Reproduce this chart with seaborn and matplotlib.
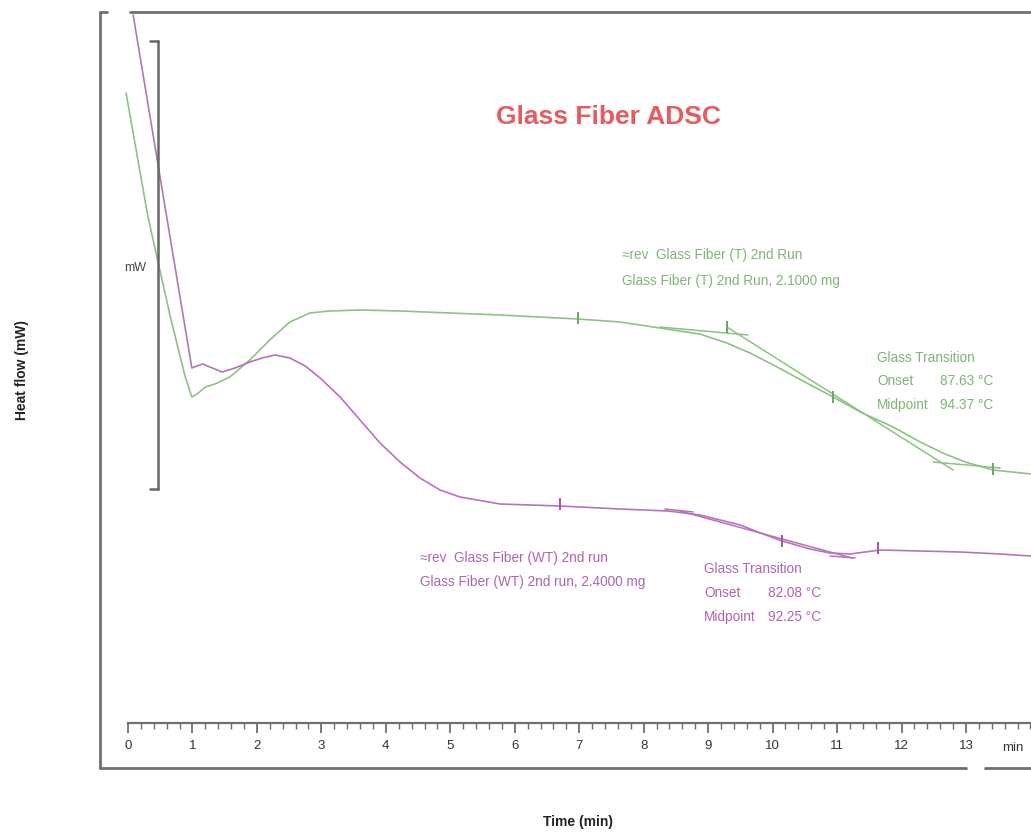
import numpy as np
import pandas as pd
import matplotlib
matplotlib.use("Agg")
import matplotlib.pyplot as plt
import seaborn as sns

# --- data (time in min, heat flow in mW, arbitrary offset) ---
t_green = [-0.03, 0.31, 0.65, 0.88, 0.99, 1.09, 1.20, 1.35, 1.58, 1.89, 2.20, 2.51, 2.82,
           3.13, 3.60, 4.22, 5.00, 5.77, 6.98, 7.63, 8.25, 8.87, 9.29, 9.65, 10.07, 10.50,
           10.94, 11.36, 11.87, 12.29, 12.64, 12.99, 13.42, 14.01]
hf_green = [6.75, 5.51, 4.53, 3.93, 3.71, 3.75, 3.81, 3.84, 3.91, 4.08, 4.28, 4.46, 4.55,
            4.57, 4.58, 4.57, 4.55, 4.53, 4.49, 4.46, 4.40, 4.34, 4.25, 4.15, 4.01, 3.86,
            3.71, 3.56, 3.41, 3.26, 3.15, 3.06, 2.98, 2.94]

t_pink = [0.08, 0.99, 1.07, 1.16, 1.27, 1.46, 1.66, 1.89, 2.08, 2.28, 2.51, 2.75, 2.98,
          3.29, 3.60, 3.91, 4.22, 4.53, 4.84, 5.15, 5.77, 6.70, 7.63, 8.38, 8.87, 9.50,
          9.81, 10.15, 10.58, 10.89, 11.20, 11.67, 12.29, 12.91, 13.53, 14.01]
hf_pink = [7.53, 4.00, 4.02, 4.04, 4.01, 3.96, 4.00, 4.06, 4.10, 4.13, 4.10, 4.02, 3.90,
           3.71, 3.48, 3.25, 3.06, 2.90, 2.78, 2.71, 2.64, 2.62, 2.59, 2.57, 2.53, 2.43,
           2.35, 2.27, 2.19, 2.15, 2.14, 2.18, 2.17, 2.16, 2.14, 2.12]

# glass transition construction lines (start/end of each segment)
green_tangents = [([8.25, 9.62], [4.41, 4.33]),
                  ([9.29, 12.80], [4.41, 2.98]),
                  ([12.49, 13.53], [3.06, 3.00])]
pink_tangents = [([8.33, 8.77], [2.59, 2.56]),
                 ([8.56, 11.23], [2.57, 2.10]),
                 ([10.89, 11.28], [2.12, 2.10])]
green_marks_t = [6.98, 9.29, 10.94, 13.42]
green_marks_hf = [4.50, 4.41, 3.71, 2.99]
pink_marks_t = [6.70, 10.15, 11.63]
pink_marks_hf = [2.64, 2.27, 2.20]

ticks = list(range(0, 14))
run_names = ["Glass Fiber (T) 2nd Run", "Glass Fiber (WT) 2nd run"]

GREEN = "#8cc383"
PINK = "#b772bb"
GREEN_TXT = "#7db574"
PINK_TXT = "#b063b0"
FRAME = "#707070"

df = pd.concat([
    pd.DataFrame({"time": t_green, "heat_flow": hf_green, "run": run_names[0]}),
    pd.DataFrame({"time": t_pink, "heat_flow": hf_pink, "run": run_names[1]}),
])

sns.set_style("white")
plt.rcParams["font.family"] = ["Liberation Sans", "DejaVu Sans"]

fig = plt.figure(figsize=(10.31, 8.39), dpi=100)
ax = fig.add_axes([0, 0, 1, 1])
ax.set_xlim(-1.986, 14.009)
ax.set_ylim(-0.71, 7.68)

sns.lineplot(data=df, x="time", y="heat_flow", hue="run", palette=[GREEN, PINK],
             sort=False, estimator=None, legend=False, linewidth=1.2, ax=ax)

for xs, ys in green_tangents:
    ax.plot(xs, ys, color=GREEN, lw=1.1)
for xs, ys in pink_tangents:
    ax.plot(xs, ys, color=PINK, lw=1.1)
ax.plot(green_marks_t, green_marks_hf, ls="none", marker="|", ms=9, mew=1.4, color="#6aa862")
ax.plot(pink_marks_t, pink_marks_hf, ls="none", marker="|", ms=9, mew=1.4, color="#a055a5")

# ruler-like time axis
for s in ["left", "top", "right"]:
    ax.spines[s].set_visible(False)
ax.spines["bottom"].set_position(("data", 0.45))
ax.spines["bottom"].set_bounds(0, 14.0)
ax.spines["bottom"].set_color(FRAME)
ax.spines["bottom"].set_linewidth(1.6)
ax.set_xticks(ticks)
ax.set_xticks(np.arange(0, 14.01, 0.2), minor=True)
ax.tick_params(axis="x", which="major", direction="out", length=7, width=1.3,
               color=FRAME, labelsize=9.5, labelcolor="#333333", pad=5)
ax.tick_params(axis="x", which="minor", direction="out", length=4, width=1.0, color=FRAME)
ax.tick_params(axis="x", which="both", bottom=True)
ax.set_yticks([])
ax.set_xlabel("")
ax.set_ylabel("")
ax.text(13.72, 0.20, "min", ha="center", va="center", fontsize=9.5, color="#333333")


def px(x, y):
    return x / 1031, 1 - y / 839


def fline(x0, y0, x1, y1, **kw):
    (a, b), (c, d) = px(x0, y0), px(x1, y1)
    fig.add_artist(plt.Line2D([a, c], [b, d], transform=fig.transFigure, **kw))


# scanned outer frame
fr = dict(color=FRAME, lw=2.0)
fline(100, 12, 100, 768, **fr)
fline(100, 12, 107, 12, **fr)
fline(130, 12, 1031, 12, **fr)
fline(100, 768, 966, 768, **fr)
fline(985, 768, 1031, 768, **fr)
# mW scale bar
sb = dict(color="#666666", lw=1.8)
fline(158, 41, 158, 489, **sb)
fline(150, 41, 158, 41, **sb)
fline(150, 489, 158, 489, **sb)
ax.text(0.11, 5.0, "mW", ha="center", va="center", fontsize=9, color="#444444")

# texts
ax.text((608 - 128) / 64.46, (768 - 117) / 100, "Glass Fiber ADSC", ha="center", va="center",
        fontsize=19, fontweight="bold", color="#e85a5d")

small = dict(fontsize=9.8, ha="left", va="center")
ax.text(7.66, 5.13, "\u2248rev  Glass Fiber (T) 2nd Run", color=GREEN_TXT, **small)
ax.text(7.66, 4.87, "Glass Fiber (T) 2nd Run, 2.1000 mg", color=GREEN_TXT, **small)
ax.text(11.62, 4.10, "Glass Transition", color=GREEN_TXT, **small)
ax.text(11.62, 3.87, "Onset", color=GREEN_TXT, **small)
ax.text(12.60, 3.87, "87.63 \u00b0C", color=GREEN_TXT, **small)
ax.text(11.62, 3.63, "Midpoint", color=GREEN_TXT, **small)
ax.text(12.60, 3.63, "94.37 \u00b0C", color=GREEN_TXT, **small)

ax.text(4.53, 2.10, "\u2248rev  Glass Fiber (WT) 2nd run", color=PINK_TXT, **small)
ax.text(4.53, 1.86, "Glass Fiber (WT) 2nd run, 2.4000 mg", color=PINK_TXT, **small)
ax.text(8.94, 1.99, "Glass Transition", color=PINK_TXT, **small)
ax.text(8.94, 1.75, "Onset", color=PINK_TXT, **small)
ax.text(9.93, 1.75, "82.08 \u00b0C", color=PINK_TXT, **small)
ax.text(8.94, 1.51, "Midpoint", color=PINK_TXT, **small)
ax.text(9.93, 1.51, "92.25 \u00b0C", color=PINK_TXT, **small)

fig.text(22 / 1031, 1 - 370 / 839, "Heat flow (mW)", rotation=90, ha="center", va="center",
         fontsize=10, fontweight="bold", color="#222222")
fig.text(578 / 1031, 1 - 822 / 839, "Time (min)", ha="center", va="center",
         fontsize=10, fontweight="bold", color="#222222")

fig.savefig("out.png", dpi=100)
